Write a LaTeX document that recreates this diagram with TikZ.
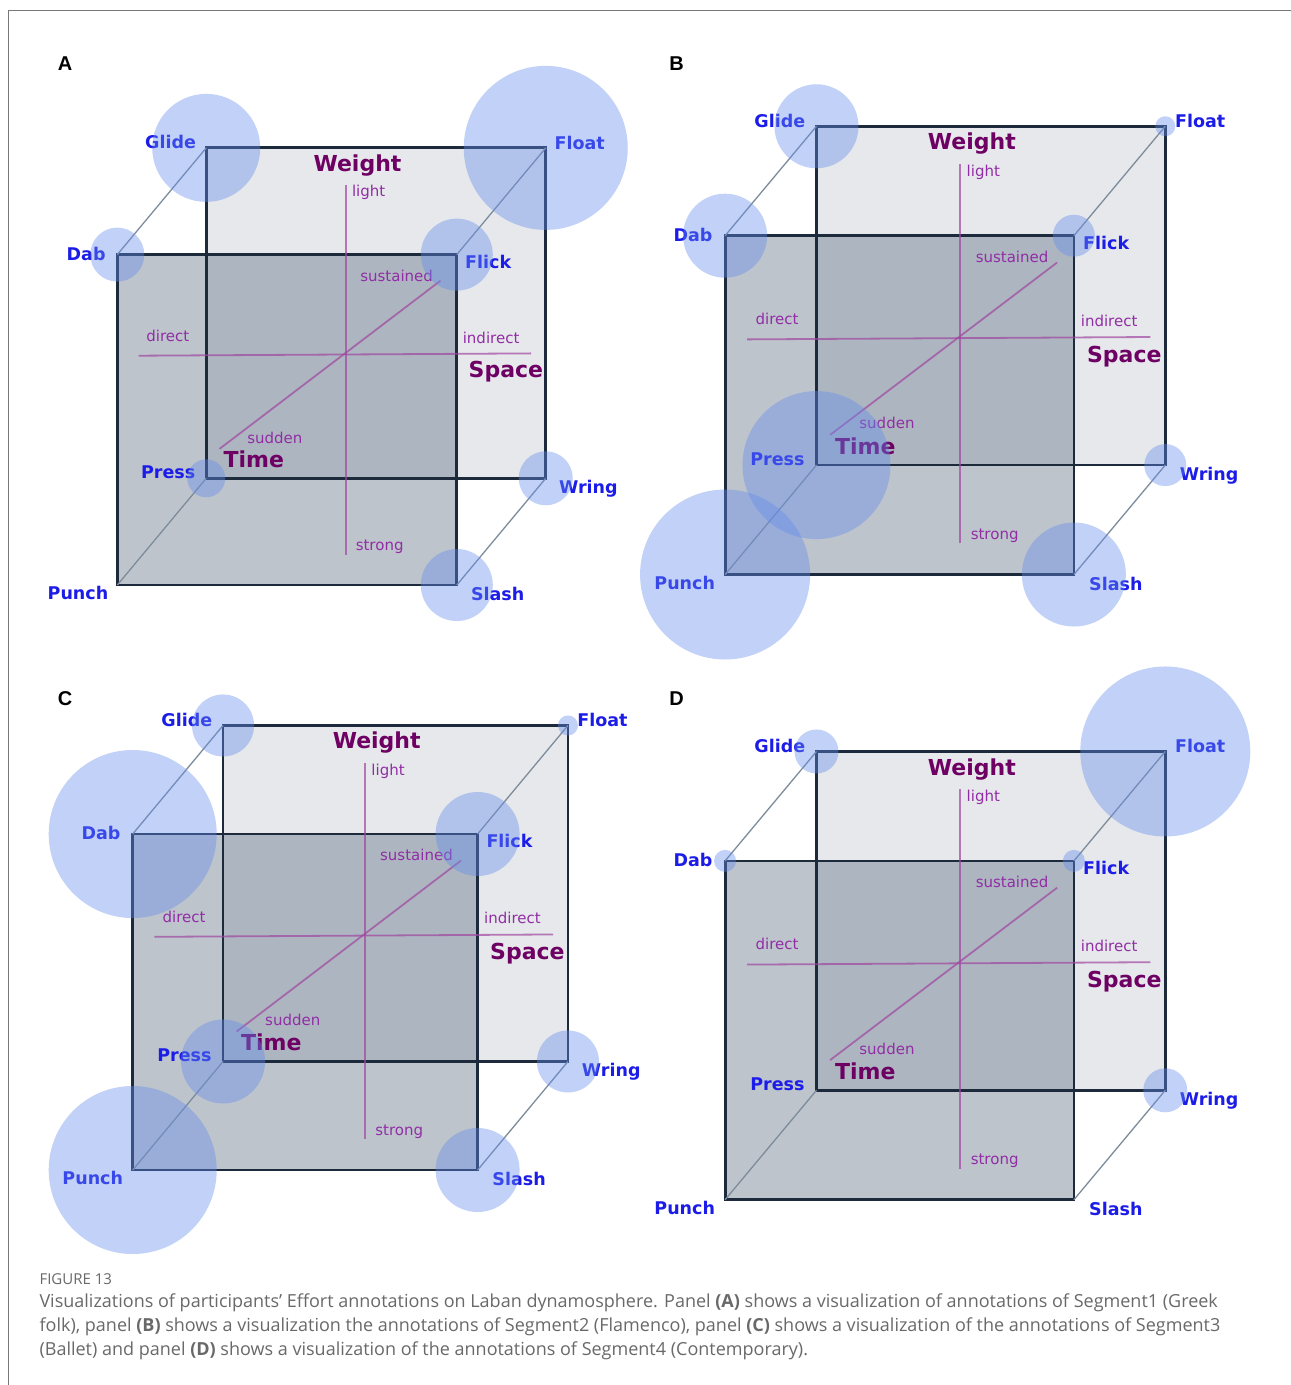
\documentclass[tikz,border=0pt]{standalone}
\usepackage{fontspec}
\setmainfont{DejaVu Sans}
\newfontfamily\letterfont{Liberation Sans}
\newfontfamily\captionfont{Open Sans}
\usetikzlibrary{calc}

\definecolor{effortblue}{RGB}{28,28,232}
\definecolor{motionpurple}{RGB}{110,0,100}
\definecolor{polepurple}{RGB}{145,45,165}
\definecolor{axispurple}{RGB}{160,70,160}
\definecolor{edgenavy}{RGB}{28,42,60}
\definecolor{depthgray}{RGB}{125,140,155}
\definecolor{backgray}{RGB}{230,232,235}
\definecolor{frontgray}{RGB}{74,94,116}
\definecolor{bubbleblue}{RGB}{100,140,235}
\definecolor{captiongray}{RGB}{105,105,105}
\definecolor{framegray}{RGB}{120,120,120}

% one dynamosphere cube, drawn in the units of the surrounding scope
\newcommand{\effortcube}[1]{%
  \coordinate (#1punch) at (0,0);
  \coordinate (#1slash) at (1,0);
  \coordinate (#1flick) at (1,1);
  \coordinate (#1dab) at (0,1);
  \coordinate (#1press) at (0.262,0.323);
  \coordinate (#1wring) at (1.262,0.323);
  \coordinate (#1float) at (1.262,1.323);
  \coordinate (#1glide) at (0.262,1.323);
  \coordinate (#1up) at (0.6726,1.211);
  \coordinate (#1down) at (0.6726,0.092);
  \coordinate (#1left) at (0.063,0.694);
  \coordinate (#1right) at (1.219,0.701);
  \coordinate (#1near) at (0.301,0.412);
  \coordinate (#1far) at (0.952,0.921);
  \fill[backface] (#1press) rectangle (#1float);
  \fill[frontface] (#1punch) rectangle (#1flick);
  \draw[cubeedge] (#1press) rectangle (#1float);
  \draw[cubeedge] (#1punch) rectangle (#1flick);
  \draw[depthedge] (#1punch) -- (#1press);
  \draw[depthedge] (#1slash) -- (#1wring);
  \draw[depthedge] (#1flick) -- (#1float);
  \draw[depthedge] (#1dab) -- (#1glide);
  \draw[axisline] (#1down) -- (#1up);
  \draw[axisline] (#1left) -- (#1right);
  \draw[axisline] (#1near) -- (#1far);
  \node[motion] (#1weight) at (0.7075,1.271) {Weight};
  \node[motion] (#1space) at (1.1445,0.6445) {Space};
  \node[motion] (#1time) at (0.402,0.379) {Time};
  \node[pole] (#1light) at (0.7404,1.1875) {light};
  \node[pole] (#1strong) at (0.7728,0.1145) {strong};
  \node[pole] (#1direct) at (0.149,0.7545) {direct};
  \node[pole] (#1indirect) at (1.101,0.749) {indirect};
  \node[pole] (#1sustained) at (0.8228,0.937) {sustained};
  \node[pole] (#1sudden) at (0.464,0.4465) {sudden};
  \node[effort] (#1glidelbl) at (0.157,1.3395) {Glide};
  \node[effort] (#1floatlbl) at (1.362,1.338) {Float};
  \node[effort] (#1dablbl) at (-0.0918,1.003) {Dab};
  \node[effort] (#1flicklbl) at (1.0925,0.978) {Flick};
  \node[effort] (#1presslbl) at (0.150,0.3415) {Press};
  \node[effort] (#1wringlbl) at (1.3875,0.2925) {Wring};
  \node[effort] (#1punchlbl) at (-0.1158,-0.024) {Punch};
  \node[effort] (#1slashlbl) at (1.1203,-0.028) {Slash};
}

\begin{document}
\begin{tikzpicture}[x=1pt,y=-1pt,
  backface/.style={fill=backgray},
  frontface/.style={fill=frontgray,fill opacity=0.36},
  cubeedge/.style={draw=edgenavy,line width=2.8pt},
  depthedge/.style={draw=depthgray,line width=1.3pt},
  axisline/.style={draw=axispurple,draw opacity=0.7,line width=1.8pt},
  motion/.style={text=motionpurple,font=\fontsize{22}{26}\selectfont\bfseries},
  pole/.style={text=polepurple,font=\fontsize{15}{18}\selectfont},
  effort/.style={text=effortblue,font=\fontsize{17.5}{21}\selectfont\bfseries},
  effortcircle/.style={fill=bubbleblue,fill opacity=0.4},
  paneltag/.style={font=\letterfont\fontsize{20}{24}\selectfont\bfseries},
  caption/.style={anchor=west,text=captiongray,font=\captionfont\fontsize{18}{21}\selectfont}]
\useasboundingbox (0,0) rectangle (1291,1385);
\fill[white] (0,0) rectangle (1291,1385);
\coordinate (frametop) at (1291,10);
\coordinate (framecorner) at (8,10);
\coordinate (framebottom) at (8,1385);
\draw[framegray,line width=1pt] (frametop) -- (framecorner) -- (framebottom);

% A
\begin{scope}[shift={(117.3,585)},x=339.5pt,y=330.4pt]
  \effortcube{a}
  \fill[effortcircle] (aglide) circle[radius=54pt];
  \fill[effortcircle] (afloat) circle[radius=82pt];
  \fill[effortcircle] (adab) circle[radius=27pt];
  \fill[effortcircle] (aflick) circle[radius=36pt];
  \fill[effortcircle] (apress) circle[radius=19pt];
  \fill[effortcircle] (awring) circle[radius=27pt];
  \fill[effortcircle] (aslash) circle[radius=36pt];
\end{scope}

% B
\begin{scope}[shift={(725.1,574.5)},x=348.8pt,y=338.8pt]
  \effortcube{b}
  \fill[effortcircle] (bglide) circle[radius=42pt];
  \fill[effortcircle] (bfloat) circle[radius=10pt];
  \fill[effortcircle] (bdab) circle[radius=42pt];
  \fill[effortcircle] (bflick) circle[radius=21pt];
  \fill[effortcircle] (bpress) circle[radius=74pt];
  \fill[effortcircle] (bwring) circle[radius=21pt];
  \fill[effortcircle] (bslash) circle[radius=52pt];
  \fill[effortcircle] (bpunch) circle[radius=85pt];
\end{scope}

% C
\begin{scope}[shift={(132.7,1170)},x=344.9pt,y=336pt]
  \effortcube{c}
  \fill[effortcircle] (cglide) circle[radius=31pt];
  \fill[effortcircle] (cfloat) circle[radius=10pt];
  \fill[effortcircle] (cdab) circle[radius=84pt];
  \fill[effortcircle] (cflick) circle[radius=42pt];
  \fill[effortcircle] (cpress) circle[radius=42pt];
  \fill[effortcircle] (cwring) circle[radius=31pt];
  \fill[effortcircle] (cslash) circle[radius=42pt];
  \fill[effortcircle] (cpunch) circle[radius=84pt];
\end{scope}

% D
\begin{scope}[shift={(725.1,1199.7)},x=348.8pt,y=338.8pt]
  \effortcube{d}
  \fill[effortcircle] (dglide) circle[radius=22pt];
  \fill[effortcircle] (dfloat) circle[radius=85pt];
  \fill[effortcircle] (ddab) circle[radius=11pt];
  \fill[effortcircle] (dflick) circle[radius=11pt];
  \fill[effortcircle] (dwring) circle[radius=22pt];
\end{scope}

\node[paneltag] (tagA) at (65,64) {A};
\node[paneltag] (tagB) at (676.5,64) {B};
\node[paneltag] (tagC) at (65,699) {C};
\node[paneltag] (tagD) at (676.5,699) {D};

\node[caption,font=\captionfont\fontsize{15}{18}\selectfont] (figlabel) at (36,1279) {FIGURE 13};
\node[caption] (cap1) at (36,1303) {Visualizations of participants’ Effort annotations on Laban dynamosphere. Panel \textbf{(A)} shows a visualization of annotations of Segment1 (Greek};
\node[caption] (cap2) at (36,1327) {folk), panel \textbf{(B)} shows a visualization the annotations of Segment2 (Flamenco), panel \textbf{(C)} shows a visualization of the annotations of Segment3};
\node[caption] (cap3) at (36,1351) {(Ballet) and panel \textbf{(D)} shows a visualization of the annotations of Segment4 (Contemporary).};
\end{tikzpicture}
\end{document}
